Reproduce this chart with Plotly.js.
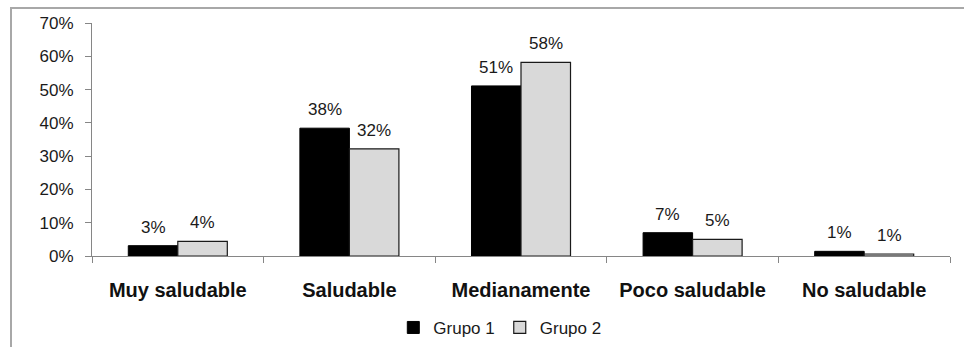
<!DOCTYPE html>
<html>
<head>
<meta charset="utf-8">
<script src="https://cdn.plot.ly/plotly-3.0.1.min.js"></script>
<style>
  html, body { margin: 0; padding: 0; background: #ffffff; overflow: hidden; }
  #wrap { position: relative; width: 964px; height: 347px; overflow: hidden; }
  #chart { position: absolute; left: 0; top: 0; width: 964px; height: 347px; }
  #frame {
    position: absolute; left: 10px; top: 7px; width: 970px; height: 360px;
    border: 2px solid #a8a8a8; box-sizing: border-box; pointer-events: none;
  }
</style>
</head>
<body>
<div id="wrap">
  <div id="chart"></div>
  <div id="frame"></div>
</div>
<script>
// Categories of the healthiness rating
const categories = ["Muy saludable", "Saludable", "Medianamente", "Poco saludable", "No saludable"];
// Share of each group per category
const grupo1 = [0.031, 0.384, 0.511, 0.070, 0.014];
const grupo2 = [0.044, 0.322, 0.582, 0.050, 0.006];
const seriesNames = ["Grupo 1", "Grupo 2"];
const yTickVals = [0, 0.1, 0.2, 0.3, 0.4, 0.5, 0.6, 0.7];

const FONT = "Arial, 'Liberation Sans', sans-serif";

const traces = [
  {
    type: "bar", name: seriesNames[0], x: categories, y: grupo1,
    marker: { color: "#000000", line: { color: "#000000", width: 1 } },
    hoverinfo: "skip"
  },
  {
    type: "bar", name: seriesNames[1], x: categories, y: grupo2,
    marker: { color: "#d9d9d9", line: { color: "#1a1a1a", width: 1.2 } },
    hoverinfo: "skip"
  }
];

// Value labels sit above each bar, shifted to that bar's slot in the group
const barShift = 24.8;
const annotations = [];
[grupo1, grupo2].forEach((vals, s) => {
  vals.forEach((v, i) => {
    annotations.push({
      x: categories[i], y: v, xref: "x", yref: "y",
      text: Math.round(v * 100) + "%",
      showarrow: false, xanchor: "center", yanchor: "bottom",
      xshift: s === 0 ? -barShift : barShift, yshift: 7,
      font: { family: FONT, size: 17, color: "#1a1a1a" }
    });
  });
});

const layout = {
  width: 964, height: 347,
  margin: { l: 92, r: 14, t: 23, b: 91, pad: 0, autoexpand: false },
  paper_bgcolor: "#ffffff", plot_bgcolor: "#ffffff",
  barmode: "group", bargap: 0.423, bargroupgap: 0,
  showlegend: true,
  legend: {
    orientation: "h", xref: "container", yref: "container",
    x: 0.408, xanchor: "left", y: 0.055, yanchor: "middle",
    font: { family: FONT, size: 17, color: "#1a1a1a" },
    itemclick: false, itemdoubleclick: false, traceorder: "normal"
  },
  xaxis: {
    type: "category", tickson: "boundaries", automargin: false,
    showline: true, linecolor: "#868686", linewidth: 1,
    ticks: "outside", ticklen: 6, tickcolor: "#868686", tickwidth: 1,
    ticklabelstandoff: 16,
    tickfont: { family: FONT, size: 20, color: "#111111", weight: "bold" },
    showgrid: false, zeroline: false, fixedrange: true
  },
  yaxis: {
    range: [0, 0.7], tickvals: yTickVals, tickformat: ".0%", automargin: false,
    showline: true, linecolor: "#868686", linewidth: 1,
    ticks: "outside", ticklen: 6, tickcolor: "#868686", tickwidth: 1,
    ticklabelstandoff: 8,
    tickfont: { family: FONT, size: 17, color: "#1a1a1a" },
    showgrid: false, zeroline: false, fixedrange: true
  },
  annotations: annotations
};

Plotly.newPlot("chart", traces, layout, { displayModeBar: false, staticPlot: true });
</script>
</body>
</html>
